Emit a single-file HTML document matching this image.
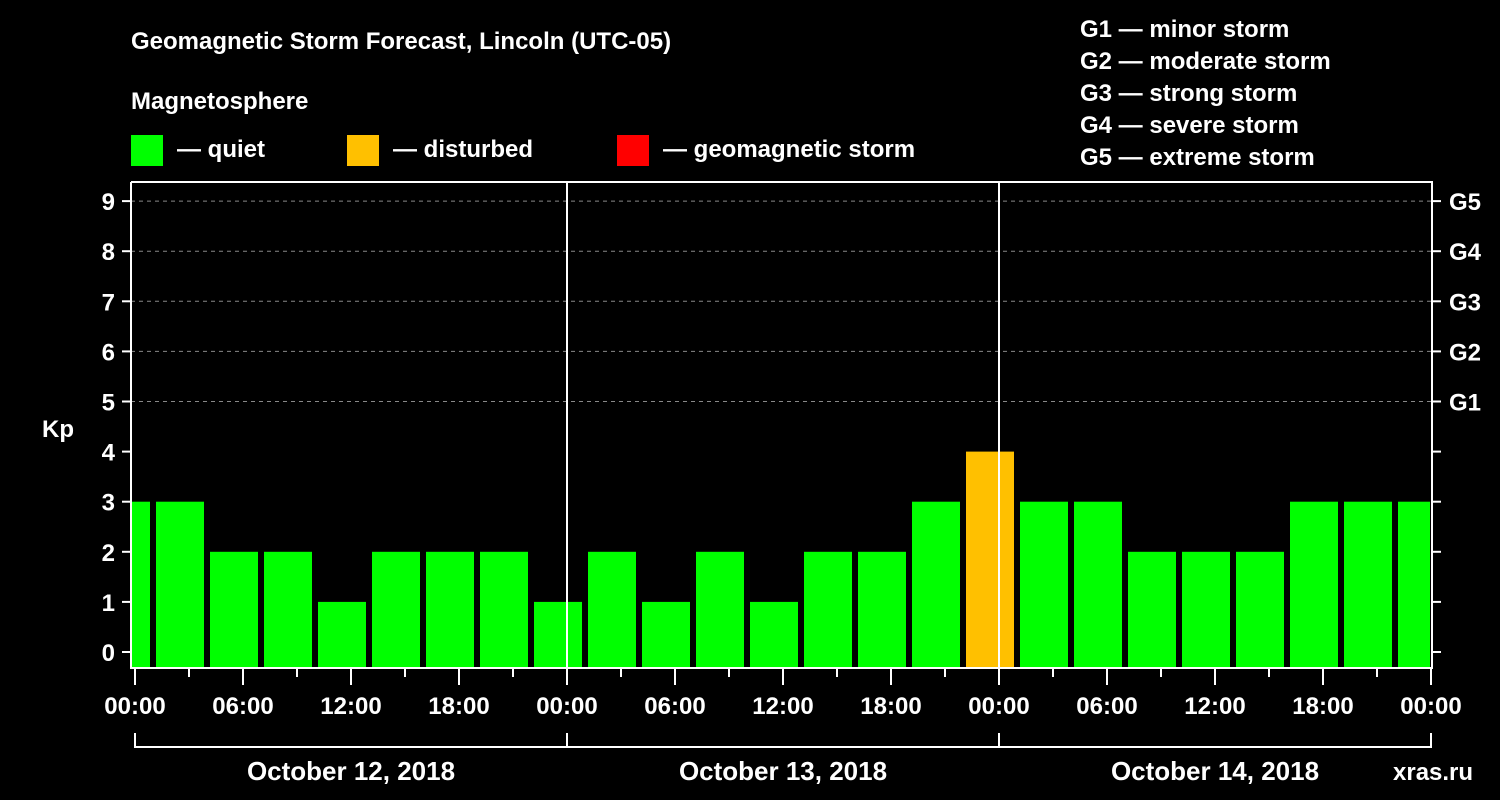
<!DOCTYPE html>
<html><head><meta charset="utf-8"><style>
html,body{margin:0;padding:0;background:#000;}
svg{display:block;font-family:"Liberation Sans",Arial,sans-serif;font-weight:bold;}
</style></head><body>
<svg id="chart" width="1500" height="800" viewBox="0 0 1500 800">
<rect width="1500" height="800" fill="#000"/>
<text x="131" y="49" fill="#fff" font-size="24">Geomagnetic Storm Forecast, Lincoln (UTC-05)</text>
<text x="131" y="109" fill="#fff" font-size="24">Magnetosphere</text>
<rect x="131" y="135" width="32" height="31" fill="#00ff00"/>
<text x="177" y="157" fill="#fff" font-size="24">— quiet</text>
<rect x="347" y="135" width="32" height="31" fill="#ffc000"/>
<text x="393" y="157" fill="#fff" font-size="24">— disturbed</text>
<rect x="617" y="135" width="32" height="31" fill="#ff0000"/>
<text x="663" y="157" fill="#fff" font-size="24">— geomagnetic storm</text>
<g fill="#fff" font-size="24">
<text x="1080" y="37">G1 — minor storm</text>
<text x="1080" y="69">G2 — moderate storm</text>
<text x="1080" y="101">G3 — strong storm</text>
<text x="1080" y="133">G4 — severe storm</text>
<text x="1080" y="165">G5 — extreme storm</text>
</g>
<text x="42" y="437" fill="#fff" font-size="24">Kp</text>
<text x="1393" y="780" fill="#fff" font-size="24">xras.ru</text>
<g id="plot"></g>
</svg>
<script>
const values=[3,3,2,2,1,2,2,2,1,2,1,2,1,2,2,3,4,3,3,2,2,2,3,3,3];
const yTicks=[0,1,2,3,4,5,6,7,8,9];
const gLabels=["G1","G2","G3","G4","G5"];
const xLabels=["00:00","06:00","12:00","18:00","00:00","06:00","12:00","18:00","00:00","06:00","12:00","18:00","00:00"];
const dayLabels=["October 12, 2018","October 13, 2018","October 14, 2018"];
const firstBarStartHour=-2;
const NS="http://www.w3.org/2000/svg";
const L=131,R=1432,T=182,B=668;
const x=h=>135+h*18;
const y=v=>652-v*50.1;
const g=document.getElementById('plot');
function mk(tag,attrs){const e=document.createElementNS(NS,tag);for(const k in attrs)e.setAttribute(k,attrs[k]);g.appendChild(e);return e;}
// grid
yTicks.forEach(v=>{if(v>=5){const e=mk('line',{x1:L,x2:R,y1:y(v),y2:y(v),stroke:'#888','stroke-dasharray':'4,4','stroke-width':1});

}});
// bars
const clip=mk('clipPath',{id:'pc'});const cr=document.createElementNS(NS,'rect');cr.setAttribute('x',L+1);cr.setAttribute('y',T);cr.setAttribute('width',R-L-3);cr.setAttribute('height',B-T);clip.appendChild(cr);
values.forEach((v,i)=>{const h0=firstBarStartHour+i*3;const x0=x(h0)+3,x1=x(h0+3)-3;
const r=mk('rect',{x:x0,y:y(v),width:x1-x0,height:B-1-y(v),fill:v>=5?'#ff0000':(v>=4?'#ffc000':'#00ff00'),'clip-path':'url(#pc)'});

});
// frame
const fr=mk('path',{d:`M${L} ${T}V${B}H${R}V${T}H${L}`,fill:'none',stroke:'#fff','stroke-width':2});


[1,2].forEach(d=>{const e=mk('line',{x1:x(d*24),x2:x(d*24),y1:T,y2:B,stroke:'#fff','stroke-width':2});

});
// y ticks
yTicks.forEach(v=>{mk('line',{x1:L-9,x2:L,y1:y(v),y2:y(v),stroke:'#fff','stroke-width':2});
mk('line',{x1:R,x2:R+9,y1:y(v),y2:y(v),stroke:'#fff','stroke-width':2});
const t=mk('text',{x:L-16,y:y(v)+9,fill:'#fff','font-size':24,'text-anchor':'end'});t.textContent=v;

});
gLabels.forEach((s,i)=>{const t=mk('text',{x:R+17,y:y(5+i)+9,fill:'#fff','font-size':24});t.textContent=s;

});
// x ticks
for(let h=0;h<=72;h+=3){const major=h%6===0;mk('line',{x1:x(h),x2:x(h),y1:B,y2:major?B+17:B+9,stroke:'#fff','stroke-width':2});}
xLabels.forEach((s,i)=>{const t=mk('text',{x:x(i*6),y:714,fill:'#fff','font-size':24,'text-anchor':'middle'});t.textContent=s;

});
// day brackets
mk('path',{d:`M${x(0)} 733V747H${x(72)}V733`,fill:'none',stroke:'#fff','stroke-width':2});
[1,2].forEach(d=>mk('line',{x1:x(d*24),x2:x(d*24),y1:733,y2:747,stroke:'#fff','stroke-width':2}));
dayLabels.forEach((s,i)=>{const t=mk('text',{x:x(i*24+12),y:780,fill:'#fff','font-size':26,'text-anchor':'middle'});t.textContent=s;

});
</script>
</body></html>
